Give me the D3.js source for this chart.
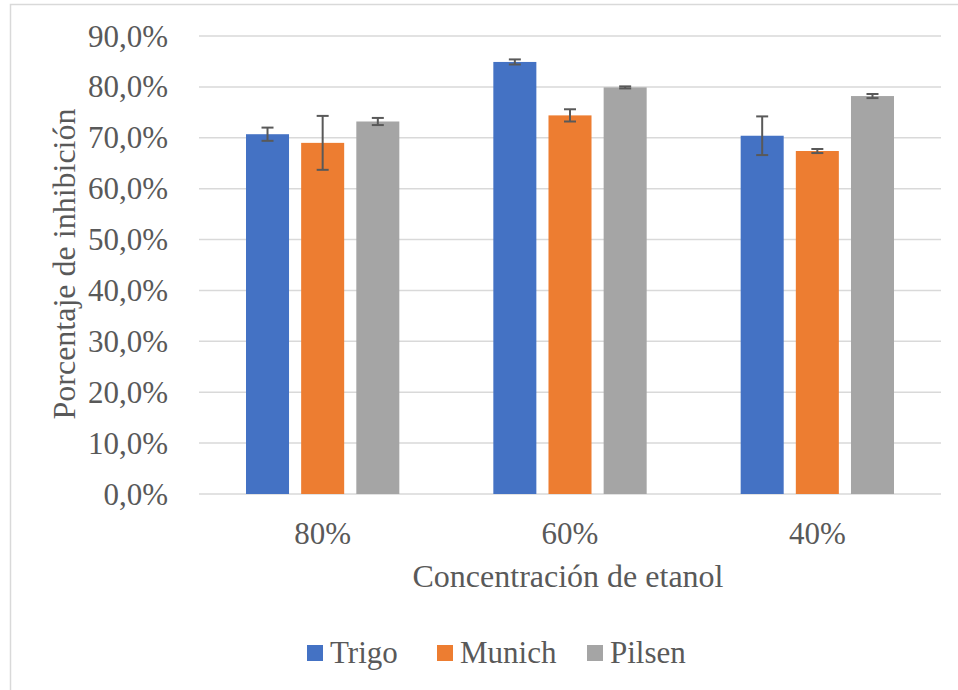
<!DOCTYPE html>
<html>
<head>
<meta charset="utf-8">
<script src="https://cdn.jsdelivr.net/npm/d3@7"></script>
<style>
  body { margin: 0; background: #fff; }
</style>
</head>
<body>
<div id="chart"></div>
<script>
// Data
const categories = ["80%", "60%", "40%"];
const seriesNames = ["Trigo", "Munich", "Pilsen"];
const seriesColors = ["#4472C4", "#ED7D31", "#A5A5A5"];
const trigo = [70.7, 84.9, 70.4];
const munich = [69.0, 74.4, 67.4];
const pilsen = [73.2, 79.9, 78.2];
const trigoErr = [1.3, 0.5, 3.8];
const munichErr = [5.3, 1.2, 0.4];
const pilsenErr = [0.7, 0.2, 0.4];
const yTicks = [0, 10, 20, 30, 40, 50, 60, 70, 80, 90];

const values = [trigo, munich, pilsen];
const errors = [trigoErr, munichErr, pilsenErr];

const FONT = "'Liberation Serif', 'DejaVu Serif', serif";
const TXT = "#595959";

const W = 958, H = 690;
const margin = { top: 36, right: 17, bottom: 196, left: 199 };
const width = W - margin.left - margin.right;
const height = H - margin.top - margin.bottom;

const svg = d3.select("#chart").append("svg")
    .attr("width", W)
    .attr("height", H);

// outer chart border
svg.append("rect")
    .attr("x", 10.5).attr("y", 4.5)
    .attr("width", 960).attr("height", 700)
    .attr("fill", "none")
    .attr("stroke", "#d9d9d9")
    .attr("stroke-width", 1.5);

const g = svg.append("g")
    .attr("transform", `translate(${margin.left},${margin.top})`);

const x0 = d3.scaleBand()
    .domain(categories)
    .range([0, width]);

const x1 = d3.scaleBand()
    .domain(seriesNames)
    .range([47, x0.bandwidth() - 47])
    .paddingInner(0.22);

const y = d3.scaleLinear()
    .domain([0, 90])
    .range([height, 0]);

// gridlines
g.selectAll(".grid")
    .data(yTicks)
    .join("line")
    .attr("class", "grid")
    .attr("x1", 0).attr("x2", width)
    .attr("y1", d => y(d)).attr("y2", d => y(d))
    .attr("stroke", "#d9d9d9")
    .attr("stroke-width", 1.5);

// y tick labels
g.selectAll(".ytick")
    .data(yTicks)
    .join("text")
    .attr("class", "ytick")
    .attr("x", -31)
    .attr("y", d => y(d))
    .attr("dy", "0.34em")
    .attr("text-anchor", "end")
    .attr("font-family", FONT)
    .attr("font-size", 31)
    .attr("fill", TXT)
    .text(d => d3.format(".1f")(d).replace(".", ",") + "%");

// bars
const groups = g.selectAll(".cat")
    .data(categories)
    .join("g")
    .attr("class", "cat")
    .attr("transform", d => `translate(${x0(d)},0)`);

seriesNames.forEach((s, si) => {
    groups.append("rect")
        .attr("x", x1(s))
        .attr("y", (d, i) => y(values[si][i]))
        .attr("width", x1.bandwidth())
        .attr("height", (d, i) => y(0) - y(values[si][i]))
        .attr("fill", seriesColors[si]);
});

// error bars
const capW = 12;
seriesNames.forEach((s, si) => {
    const cx = x1(s) + x1.bandwidth() / 2;
    groups.each(function(d, i) {
        const v = values[si][i], e = errors[si][i];
        const sel = d3.select(this).append("g")
            .attr("stroke", "#595959")
            .attr("stroke-width", 2);
        sel.append("line")
            .attr("x1", cx).attr("x2", cx)
            .attr("y1", y(v + e)).attr("y2", y(v - e));
        sel.append("line")
            .attr("x1", cx - capW / 2).attr("x2", cx + capW / 2)
            .attr("y1", y(v + e)).attr("y2", y(v + e));
        sel.append("line")
            .attr("x1", cx - capW / 2).attr("x2", cx + capW / 2)
            .attr("y1", y(v - e)).attr("y2", y(v - e));
    });
});

// x category labels
g.selectAll(".xtick")
    .data(categories)
    .join("text")
    .attr("class", "xtick")
    .attr("x", d => x0(d) + x0.bandwidth() / 2)
    .attr("y", height + 50)
    .attr("text-anchor", "middle")
    .attr("font-family", FONT)
    .attr("font-size", 31)
    .attr("fill", TXT)
    .text(d => d);

// axis titles
g.append("text")
    .attr("x", width / 2 - 2)
    .attr("y", height + 93)
    .attr("text-anchor", "middle")
    .attr("font-family", FONT)
    .attr("font-size", 32)
    .attr("fill", TXT)
    .text("Concentración de etanol");

svg.append("text")
    .attr("transform", `translate(75,${264}) rotate(-90)`)
    .attr("text-anchor", "middle")
    .attr("font-family", FONT)
    .attr("font-size", 32)
    .attr("fill", TXT)
    .text("Porcentaje de inhibición");

// legend
const legendX = [307, 437, 587];
const legend = svg.selectAll(".legend")
    .data(seriesNames)
    .join("g")
    .attr("class", "legend")
    .attr("transform", (d, i) => `translate(${legendX[i]},645)`);

legend.append("rect")
    .attr("width", 16).attr("height", 16)
    .attr("fill", (d, i) => seriesColors[i]);

legend.append("text")
    .attr("x", 23)
    .attr("y", 18)
    .attr("font-family", FONT)
    .attr("font-size", 31)
    .attr("fill", TXT)
    .text(d => d);
</script>
</body>
</html>
